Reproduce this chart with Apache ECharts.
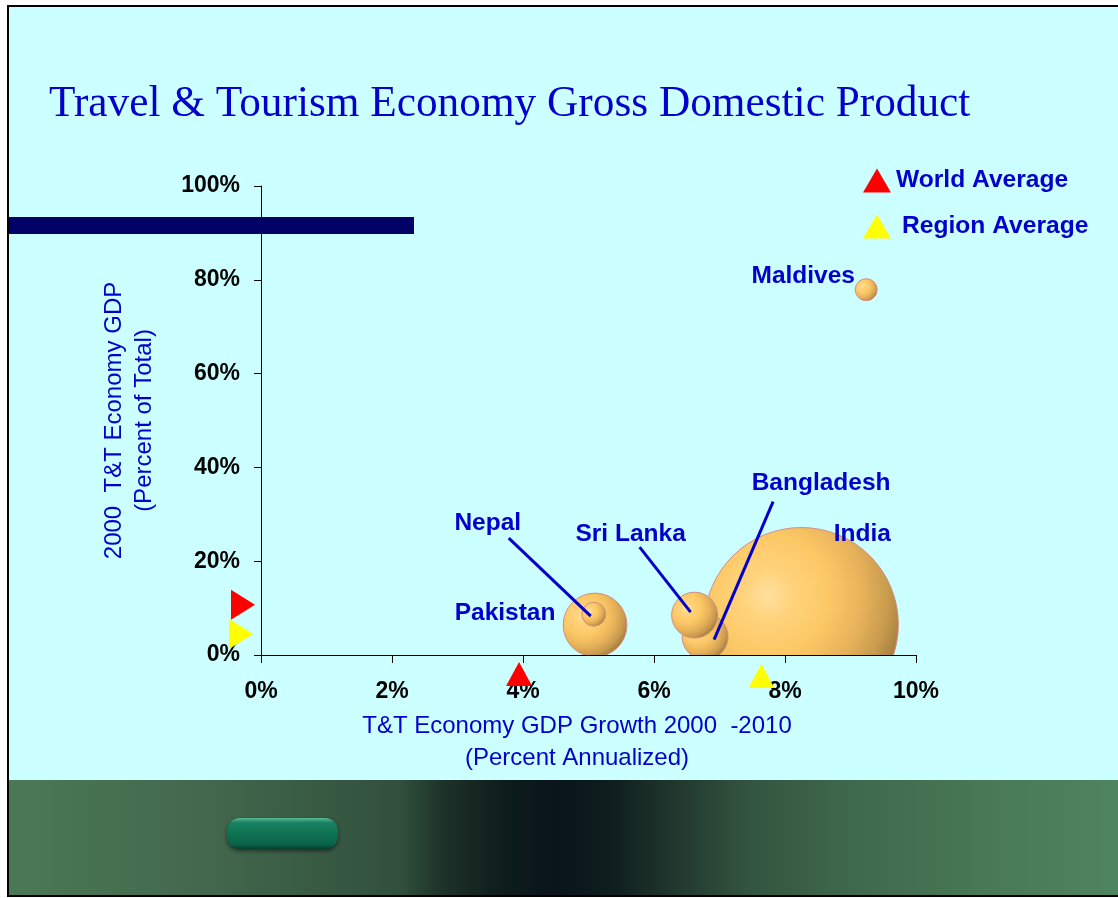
<html>
<head>
<meta http-equiv="Content-Type" content="text/html; charset=utf-8" />
<script src="https://cdn.jsdelivr.net/npm/echarts@6.0.0/dist/echarts.min.js"></script>
<style>body{margin:0;background:#fff;}</style>
</head>
<body>
<div id="main" style="width:1118px;height:898px;"></div>
<script type="text/javascript">
// data
var countries = ['India', 'Bangladesh', 'Sri Lanka', 'Pakistan', 'Nepal', 'Maldives'];
var gdpGrowth = [8.25, 6.78, 6.62, 5.10, 5.08, 9.24];   // T&T GDP growth 2000-2010, % annualized
var gdpShare  = [6.5, 3.9, 8.5, 6.4, 8.7, 77.9];        // 2000 T&T economy GDP, % of total
var ttGdp     = [25.0, 1.4, 1.4, 2.7, 0.38, 0.32];      // bubble size (T&T economy GDP, US$ bn, estimated)
var worldAvg  = [3.94, 10.7];                           // [growth, share]
var regionAvg = [7.64, 4.5];

// label placement relative to bubble centre (px) - layout only
var labelPos = {
  'India':      {dx: 61,  dy: -90},
  'Bangladesh': {dx: 116, dy: -153, line: [68, -135, 9, 3]},
  'Sri Lanka':  {dx: -64, dy: -81,  line: [-55, -68, -4, -3]},
  'Pakistan':   {dx: -90, dy: -12},
  'Nepal':      {dx: -106, dy: -91, line: [-85, -76, -3, 2]},
  'Maldives':   {dx: -63, dy: -13}
};
var sizeScale = 19.4;
var blue = '#0000cc';
var sans = 'Liberation Sans, Arial, sans-serif';

var bubbleData = countries.map(function (c, i) {
  return {name: c, value: [gdpGrowth[i], gdpShare[i], ttGdp[i]]};
});

var myChart = echarts.init(document.getElementById('main'));

var option = {
  animation: false,
  backgroundColor: '#ffffff',
  title: {
    text: 'Travel & Tourism Economy Gross Domestic Product',
    left: 44,
    top: 78,
    textStyle: {fontFamily: 'Liberation Serif, Times New Roman, serif', fontSize: 43.3, fontWeight: 'normal', color: blue}
  },
  legend: {
    orient: 'vertical',
    left: 858,
    top: 163,
    itemWidth: 28,
    itemHeight: 24,
    itemGap: 21,
    icon: 'triangle',
    selectedMode: false,
    textStyle: {fontSize: 24.6, fontWeight: 'bold', color: blue, fontFamily: sans},
    data: ['World Average', {name: 'Region Average', textStyle: {padding: [0, 0, 0, 6]}}]
  },
  graphic: [
    {type: 'rect', z: -10, shape: {x: 8, y: 6, width: 1120, height: 890},
     style: {fill: '#ccffff', stroke: '#000', lineWidth: 2}},
    {type: 'rect', z: -9, shape: {x: 9, y: 780, width: 1109, height: 115},
     style: {fill: new echarts.graphic.LinearGradient(0, 0, 1, 0, [
       {offset: 0, color: '#4b7956'},
       {offset: 0.185, color: '#42674c'},
       {offset: 0.353, color: '#30503c'},
       {offset: 0.391, color: '#1e3229'},
       {offset: 0.443, color: '#0f1d1c'},
       {offset: 0.492, color: '#0a141a'},
       {offset: 0.542, color: '#0e1d1d'},
       {offset: 0.604, color: '#22392e'},
       {offset: 0.668, color: '#335540'},
       {offset: 0.765, color: '#3f6a4c'},
       {offset: 0.894, color: '#4a7a57'},
       {offset: 1, color: '#4f8460'}
     ])}},
    {type: 'rect', z: -8, shape: {x: 227, y: 818, width: 111, height: 31, r: 13},
     style: {
       fill: new echarts.graphic.LinearGradient(0, 0, 0, 1, [
         {offset: 0, color: '#5ab894'},
         {offset: 0.15, color: '#198262'},
         {offset: 0.5, color: '#0d7252'},
         {offset: 0.85, color: '#0b6448'},
         {offset: 1, color: '#06402e'}
       ]),
       shadowBlur: 4, shadowColor: 'rgba(0,0,0,0.5)', shadowOffsetY: 2
     }},
    {type: 'rect', z: -8, shape: {x: 9, y: 217, width: 405, height: 17}, style: {fill: '#000066'}}
  ],
  grid: {left: 261, top: 186, width: 655, height: 469},
  xAxis: {
    type: 'value', min: 0, max: 10, interval: 2,
    splitLine: {show: false},
    axisLine: {show: true, onZero: false, lineStyle: {color: '#000', width: 1}},
    axisTick: {show: true, length: 8, lineStyle: {color: '#000'}},
    axisLabel: {formatter: '{value}%', color: '#000', fontWeight: 'bold', fontSize: 23, fontFamily: sans, margin: 25},
    name: 'T&T Economy GDP Growth 2000  -2010\n(Percent Annualized)',
    nameLocation: 'middle',
    nameGap: 55,
    nameTextStyle: {color: blue, fontSize: 24, lineHeight: 32, fontFamily: sans, padding: [0, 23, 0, 0]}
  },
  yAxis: {
    type: 'value', min: 0, max: 100, interval: 20,
    splitLine: {show: false},
    axisLine: {show: true, onZero: false, lineStyle: {color: '#000', width: 1}},
    axisTick: {show: true, length: 7, lineStyle: {color: '#000'}},
    axisLabel: {formatter: '{value}%', color: '#000', fontWeight: 'bold', fontSize: 23, fontFamily: sans, margin: 21},
    name: '2000  T&T Economy GDP\n(Percent of Total)',
    nameLocation: 'middle',
    nameRotate: 90,
    nameGap: 102,
    nameTextStyle: {color: blue, fontSize: 24, lineHeight: 30, fontFamily: sans}
  },
  series: [
    {
      // bubbles, clipped at the axes
      type: 'custom',
      clip: true,
      silent: true,
      z: 2,
      encode: {x: 0, y: 1},
      data: bubbleData,
      renderItem: function (params, api) {
        var c = api.coord([api.value(0), api.value(1)]);
        var r = sizeScale * Math.sqrt(api.value(2));
        return {
          type: 'circle',
          shape: {cx: c[0], cy: c[1], r: r},
          style: {
            fill: new echarts.graphic.RadialGradient(0.33, 0.35, 0.7, [
              {offset: 0, color: '#ffdf9e'},
              {offset: 0.2, color: '#ffd27a'},
              {offset: 0.45, color: '#fcc865'},
              {offset: 0.7, color: '#e6b15a'},
              {offset: 0.88, color: '#c89b4e'},
              {offset: 1, color: '#a88040'}
            ]),
            stroke: '#d48c84',
            lineWidth: 1
          }
        };
      }
    },
    {
      // country names and leader lines
      type: 'custom',
      clip: false,
      silent: true,
      z: 4,
      encode: {x: 0, y: 1},
      data: bubbleData,
      renderItem: function (params, api) {
        var c = api.coord([api.value(0), api.value(1)]);
        var name = countries[params.dataIndex];
        var p = labelPos[name];
        var children = [];
        if (p.line) {
          children.push({
            type: 'line',
            shape: {x1: c[0] + p.line[0], y1: c[1] + p.line[1], x2: c[0] + p.line[2], y2: c[1] + p.line[3]},
            style: {stroke: blue, lineWidth: 3}
          });
        }
        children.push({
          type: 'text',
          x: c[0] + p.dx,
          y: c[1] + p.dy,
          style: {text: name, fill: blue, fontSize: 24.5, fontWeight: 'bold', fontFamily: sans, align: 'center', verticalAlign: 'middle'}
        });
        return {type: 'group', children: children};
      }
    },
    {
      name: 'World Average',
      type: 'scatter',
      symbol: 'triangle',
      clip: false,
      silent: true,
      z: 5,
      itemStyle: {color: '#ff0000', opacity: 1},
      data: [
        {value: [worldAvg[0], 0], symbolSize: [26, 24], symbolOffset: [0, 19]},
        {value: [0, worldAvg[1]], symbolSize: [30, 24], symbolRotate: -90, symbolOffset: [-18, 0]}
      ]
    },
    {
      name: 'Region Average',
      type: 'scatter',
      symbol: 'triangle',
      clip: false,
      silent: true,
      z: 5,
      itemStyle: {color: '#ffff00', opacity: 1},
      data: [
        {value: [regionAvg[0], 0], symbolSize: [26, 24], symbolOffset: [0, 21]},
        {value: [0, regionAvg[1]], symbolSize: [30, 24], symbolRotate: -90, symbolOffset: [-20, 0]}
      ]
    }
  ]
};

myChart.setOption(option);
</script>
</body>
</html>
